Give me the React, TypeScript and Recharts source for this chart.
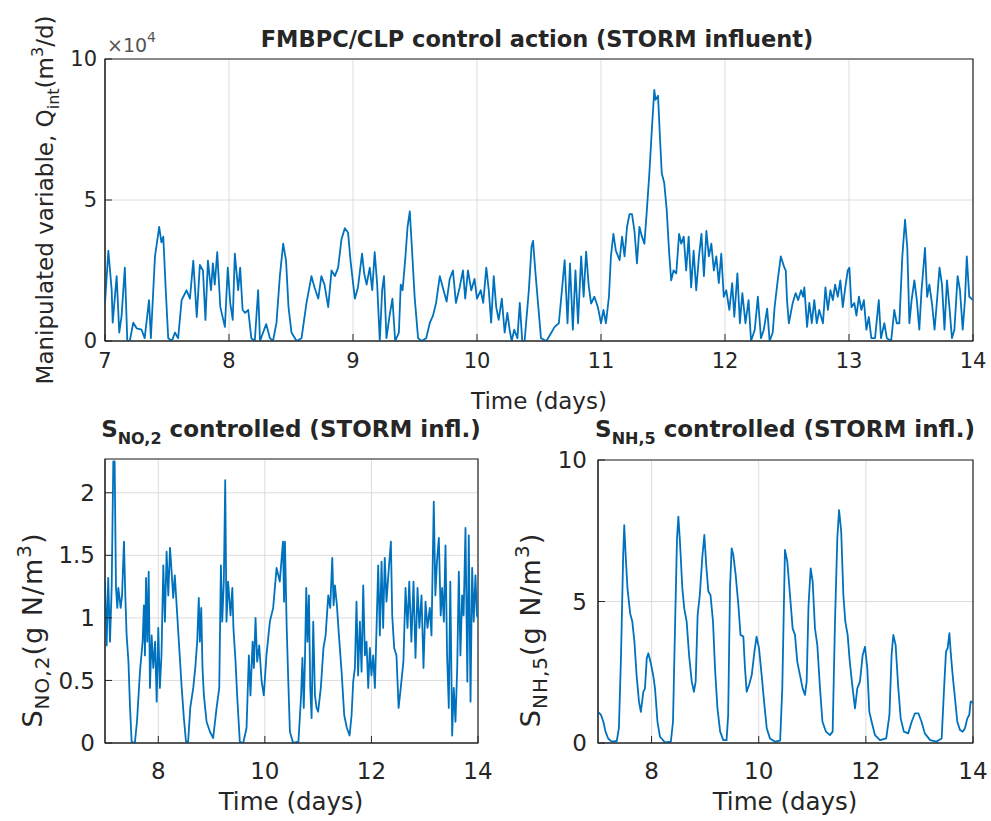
import React from 'react';
import { LineChart, Line, XAxis, YAxis, CartesianGrid, ReferenceArea } from 'recharts';

const FONT = '"DejaVu Sans", Verdana, sans-serif';
const AX = '#262626';
const GRID = '#dcdcdc';
const BLUE = '#0072BD';

// Time axis ticks (days)
const topXTicks = [7, 8, 9, 10, 11, 12, 13, 14];
const topYTicks = [0, 5, 10];
const botXTicks = [8, 10, 12, 14];
const noYTicks = [0, 0.5, 1, 1.5, 2];
const nhYTicks = [0, 5, 10];

// Manipulated variable Q_int, [time (days), value (x10^4 m3/d)]
const qintPoints: [number, number][] = [
  [7.0, 1.35], [7.027, 3.2], [7.054, 1.8], [7.062, 0.65], [7.094, 2.3], [7.115, 0.3], [7.134, 0.9], [7.16, 2.6], [7.18, 0], [7.2, 0],
  [7.228, 0.65], [7.255, 0.45], [7.295, 0.4], [7.32, 0.1], [7.355, 1.45], [7.37, 0.1], [7.403, 3.0], [7.437, 4.05], [7.455, 3.5], [7.47, 3.7],
  [7.49, 1.8], [7.51, 0.1], [7.54, 0], [7.564, 0.3], [7.59, 0.1], [7.618, 1.45], [7.658, 1.8], [7.685, 1.5], [7.712, 2.85], [7.74, 0.85],
  [7.765, 2.7], [7.79, 2.5], [7.81, 0.75], [7.83, 2.85], [7.855, 1.8], [7.87, 2.75], [7.885, 2.0], [7.905, 3.15], [7.93, 1.2], [7.967, 0.5],
  [7.99, 2.6], [8.01, 1.35], [8.03, 0.75], [8.047, 3.1], [8.074, 1.8], [8.09, 2.6], [8.11, 1.1], [8.13, 1.0], [8.155, 1.1], [8.18, 0.1],
  [8.208, 0], [8.235, 1.8], [8.25, 0], [8.275, 0.3], [8.3, 0.6], [8.33, 0.1], [8.355, 0], [8.383, 0.65], [8.41, 2.3], [8.437, 3.45],
  [8.46, 2.85], [8.48, 1.2], [8.504, 0.3], [8.545, 0], [8.585, 0.1], [8.625, 1.35], [8.665, 2.3], [8.69, 1.9], [8.72, 1.5], [8.745, 2.3],
  [8.77, 2.0], [8.8, 1.2], [8.827, 2.5], [8.854, 2.3], [8.88, 2.6], [8.907, 3.6], [8.934, 4.0], [8.96, 3.85], [8.98, 2.85], [9.015, 1.5],
  [9.04, 1.9], [9.073, 3.1], [9.09, 2.4], [9.11, 2.0], [9.135, 2.6], [9.155, 1.8], [9.175, 3.15], [9.195, 2.0], [9.216, 0], [9.235, 1.8],
  [9.25, 2.3], [9.27, 0.1], [9.295, 0.9], [9.318, 1.5], [9.34, 0], [9.37, 0.3], [9.385, 2.0], [9.4, 1.8], [9.423, 3.0], [9.44, 4.05],
  [9.458, 4.6], [9.475, 3.3], [9.498, 1.5], [9.525, 0.1], [9.552, 0], [9.59, 0.1], [9.62, 0.65], [9.645, 0.9], [9.67, 1.35], [9.7, 2.3],
  [9.73, 1.8], [9.755, 1.4], [9.78, 2.2], [9.806, 2.5], [9.83, 1.35], [9.86, 1.9], [9.887, 2.5], [9.905, 1.5], [9.927, 2.5], [9.954, 1.8],
  [9.98, 2.2], [10.0, 1.5], [10.03, 1.8], [10.05, 1.35], [10.075, 2.6], [10.095, 1.8], [10.114, 0.65], [10.135, 2.3], [10.155, 1.2], [10.175, 0.75],
  [10.2, 1.5], [10.223, 0.3], [10.245, 1.0], [10.263, 0.4], [10.28, 0], [10.3, 0.4], [10.326, 0.1], [10.345, 1.35], [10.365, 0], [10.384, 0],
  [10.418, 1.8], [10.44, 3.35], [10.452, 3.55], [10.47, 2.5], [10.49, 1.45], [10.516, 0.1], [10.56, 0], [10.6, 0.3], [10.626, 0.5], [10.66, 0.63],
  [10.68, 1.57], [10.707, 2.87], [10.73, 0.63], [10.75, 2.75], [10.773, 0.4], [10.794, 2.5], [10.815, 0.63], [10.84, 3.0], [10.86, 1.57], [10.88, 3.17],
  [10.9, 2.0], [10.92, 1.33], [10.947, 1.57], [10.975, 1.2], [11.0, 0.63], [11.02, 1.1], [11.04, 0.63], [11.064, 1.57], [11.08, 3.0], [11.1, 3.8],
  [11.12, 3.2], [11.15, 2.87], [11.17, 3.7], [11.19, 3.0], [11.21, 4.05], [11.23, 4.5], [11.25, 4.5], [11.27, 3.9], [11.29, 2.75], [11.31, 4.05],
  [11.33, 3.7], [11.35, 3.45], [11.37, 4.65], [11.39, 5.95], [11.41, 7.5], [11.43, 8.9], [11.44, 8.55], [11.46, 8.7], [11.475, 7.25], [11.49, 5.95],
  [11.51, 5.6], [11.53, 4.65], [11.55, 3.1], [11.566, 2.15], [11.585, 2.5], [11.607, 2.4], [11.63, 3.8], [11.647, 3.45], [11.667, 3.7], [11.687, 2.5],
  [11.707, 3.7], [11.727, 1.9], [11.747, 3.2], [11.768, 1.8], [11.79, 3.0], [11.81, 3.8], [11.83, 2.3], [11.85, 3.9], [11.87, 3.0], [11.89, 3.45],
  [11.91, 2.5], [11.93, 3.0], [11.95, 2.05], [11.97, 3.1], [11.99, 1.57], [12.01, 1.8], [12.035, 1.1], [12.058, 2.05], [12.075, 0.86], [12.1, 2.4],
  [12.12, 0.63], [12.14, 1.7], [12.165, 0.63], [12.19, 1.45], [12.21, 0], [12.24, 0.4], [12.265, 1.57], [12.29, 0.1], [12.313, 0.4], [12.34, 1.15],
  [12.36, 0], [12.385, 0.3], [12.4, 1.2], [12.425, 2.15], [12.45, 3.0], [12.479, 2.6], [12.49, 2.5], [12.5, 1.45], [12.515, 0.63], [12.546, 1.35],
  [12.57, 1.7], [12.59, 1.45], [12.614, 1.8], [12.63, 1.57], [12.64, 1.9], [12.662, 0.5], [12.68, 1.35], [12.7, 0.63], [12.72, 1.45], [12.74, 0.63],
  [12.76, 1.1], [12.79, 0.63], [12.81, 1.9], [12.83, 1.1], [12.85, 1.8], [12.87, 1.45], [12.888, 2.0], [12.91, 1.57], [12.93, 2.15], [12.95, 1.2],
  [12.97, 1.9], [12.99, 2.5], [13.003, 2.6], [13.02, 1.2], [13.043, 1.35], [13.06, 0.9], [13.08, 1.57], [13.1, 1.1], [13.12, 1.45], [13.14, 0.4],
  [13.16, 0.85], [13.18, 0.1], [13.21, 0.1], [13.24, 1.45], [13.258, 0.1], [13.285, 0.63], [13.305, 0.1], [13.34, 0], [13.365, 1.1], [13.385, 0.63],
  [13.406, 0.63], [13.43, 3.0], [13.452, 4.3], [13.47, 3.3], [13.487, 0.63], [13.505, 1.45], [13.527, 2.15], [13.547, 1.45], [13.567, 0.4], [13.585, 1.8],
  [13.613, 3.3], [13.63, 1.57], [13.648, 2.0], [13.67, 1.3], [13.69, 0.4], [13.71, 1.45], [13.73, 2.6], [13.75, 2.0], [13.77, 0.4], [13.79, 2.15],
  [13.81, 1.2], [13.83, 0.1], [13.85, 0.4], [13.876, 2.3], [13.895, 1.8], [13.917, 0.4], [13.935, 1.45], [13.95, 3.0], [13.97, 1.57], [14.0, 1.45],
];

// S_NO,2 (g N/m3)
const sno2Points: [number, number][] = [
  [7.0, 1.29], [7.031, 0.78], [7.06, 1.32], [7.094, 0.81], [7.125, 1.24], [7.156, 2.25], [7.181, 2.25], [7.206, 1.24], [7.231, 1.08], [7.25, 1.24],
  [7.294, 1.08], [7.32, 1.18], [7.356, 1.61], [7.381, 1.18], [7.406, 0.86], [7.44, 0.65], [7.47, 0.28], [7.5, 0.01], [7.56, 0], [7.6, 0.17],
  [7.656, 0.57], [7.706, 0.81], [7.73, 1.1], [7.75, 0.7], [7.77, 1.32], [7.794, 0.81], [7.82, 1.37], [7.844, 0.44], [7.875, 0.86], [7.906, 0.6],
  [7.94, 0.81], [7.97, 0.33], [8.0, 0.92], [8.03, 0.44], [8.06, 0.7], [8.094, 1.42], [8.125, 0.97], [8.156, 1.53], [8.188, 1.18], [8.22, 1.56],
  [8.25, 1.37], [8.28, 1.16], [8.31, 1.34], [8.356, 1.02], [8.39, 0.78], [8.44, 0.44], [8.48, 0.2], [8.52, 0.01], [8.56, 0.01], [8.6, 0.28],
  [8.656, 0.44], [8.694, 0.6], [8.73, 0.81], [8.76, 1.16], [8.78, 0.81], [8.806, 1.08], [8.83, 0.6], [8.856, 0.38], [8.906, 0.17], [8.97, 0.09],
  [9.03, 0.04], [9.094, 0.28], [9.144, 0.44], [9.175, 1.42], [9.2, 0.97], [9.23, 1.29], [9.256, 2.1], [9.28, 0.97], [9.31, 1.29], [9.356, 1.02],
  [9.39, 1.24], [9.41, 0.92], [9.45, 0.65], [9.48, 0.38], [9.53, 0.01], [9.594, 0], [9.656, 0.12], [9.7, 0.7], [9.73, 0.38], [9.77, 0.81],
  [9.794, 0.6], [9.825, 1.0], [9.856, 0.65], [9.894, 0.78], [9.94, 0.49], [9.98, 0.38], [10.03, 0.7], [10.094, 0.97], [10.156, 1.08], [10.22, 1.4],
  [10.28, 1.29], [10.34, 1.61], [10.36, 1.13], [10.377, 1.61], [10.41, 0.92], [10.44, 0.49], [10.47, 0.09], [10.53, 0], [10.63, 0.01], [10.68, 0.38],
  [10.705, 0.68], [10.73, 0.28], [10.752, 0.65], [10.777, 1.24], [10.8, 0.81], [10.827, 1.18], [10.852, 0.44], [10.877, 0.2], [10.908, 0.97], [10.94, 0.38],
  [10.97, 0.28], [11.0, 0.25], [11.05, 0.44], [11.1, 0.76], [11.14, 0.86], [11.19, 1.18], [11.227, 1.08], [11.265, 1.48], [11.29, 1.1], [11.315, 1.26],
  [11.352, 1.1], [11.39, 0.86], [11.44, 0.57], [11.49, 0.22], [11.54, 0.12], [11.59, 0.06], [11.627, 0.22], [11.658, 0.49], [11.69, 0.6], [11.72, 1.13],
  [11.75, 0.54], [11.783, 0.97], [11.815, 0.57], [11.846, 1.26], [11.877, 0.7], [11.908, 0.81], [11.94, 0.44], [11.97, 0.76], [12.0, 0.54], [12.033, 0.7],
  [12.065, 0.44], [12.096, 0.92], [12.127, 1.42], [12.158, 0.86], [12.19, 1.45], [12.22, 0.92], [12.25, 1.48], [12.283, 1.13], [12.327, 1.4], [12.365, 1.61],
  [12.39, 1.02], [12.427, 0.76], [12.47, 0.7], [12.51, 0.28], [12.55, 0.44], [12.6, 0.65], [12.64, 1.24], [12.677, 0.92], [12.71, 1.29], [12.75, 0.81],
  [12.79, 1.29], [12.827, 0.68], [12.865, 1.24], [12.9, 0.92], [12.94, 1.18], [12.977, 0.6], [13.015, 1.13], [13.052, 0.92], [13.095, 1.08], [13.127, 0.86],
  [13.17, 1.93], [13.2, 1.18], [13.23, 1.45], [13.265, 1.64], [13.3, 1.02], [13.327, 1.24], [13.36, 0.97], [13.39, 1.58], [13.42, 0.7], [13.452, 0.28],
  [13.48, 1.29], [13.515, 0.06], [13.545, 0.44], [13.577, 0.17], [13.61, 0.6], [13.64, 1.37], [13.67, 0.7], [13.702, 1.18], [13.73, 1.02], [13.765, 1.72],
  [13.8, 0.49], [13.827, 1.66], [13.86, 0.33], [13.89, 1.4], [13.92, 0.97], [13.952, 1.34], [13.98, 1.02], [14.0, 1.0],
];

// S_NH,5 (g N/m3)
const snh5Points: [number, number][] = [
  [7.0, 1.1], [7.056, 0.99], [7.1, 0.75], [7.14, 0.4], [7.19, 0.16], [7.255, 0.05], [7.35, 0.07], [7.39, 0.52], [7.43, 3.1], [7.47, 6.64],
  [7.49, 7.7], [7.516, 6.64], [7.55, 5.47], [7.6, 4.58], [7.64, 4.29], [7.68, 3.58], [7.72, 2.4], [7.765, 1.46], [7.8, 1.1], [7.846, 1.81],
  [7.877, 1.93], [7.91, 2.99], [7.94, 3.17], [7.98, 2.87], [8.03, 2.4], [8.064, 1.93], [8.11, 0.75], [8.157, 0.22], [8.25, 0.02], [8.36, 0.05],
  [8.4, 0.75], [8.44, 4.29], [8.475, 7.23], [8.5, 8.0], [8.53, 7.11], [8.574, 5.47], [8.61, 4.76], [8.655, 4.29], [8.7, 3.1], [8.75, 2.17],
  [8.79, 1.81], [8.823, 2.17], [8.86, 4.52], [8.9, 5.23], [8.95, 6.64], [8.985, 7.35], [9.02, 6.29], [9.06, 5.35], [9.1, 5.23], [9.147, 4.29],
  [9.184, 2.64], [9.23, 1.22], [9.28, 0.4], [9.34, 0.1], [9.4, 0.1], [9.43, 0.99], [9.464, 5.47], [9.495, 6.88], [9.526, 6.64], [9.57, 5.94],
  [9.62, 4.88], [9.66, 3.82], [9.713, 3.76], [9.744, 2.64], [9.775, 1.81], [9.82, 2.05], [9.87, 2.4], [9.92, 3.23], [9.96, 3.76], [10.005, 3.35],
  [10.055, 2.4], [10.1, 1.46], [10.15, 0.52], [10.21, 0.16], [10.3, 0.05], [10.4, 0.08], [10.44, 1.93], [10.49, 6.82], [10.534, 6.41], [10.584, 5.23],
  [10.633, 4.05], [10.677, 3.82], [10.72, 2.87], [10.77, 2.4], [10.82, 1.93], [10.864, 1.7], [10.895, 2.17], [10.93, 4.88], [10.97, 6.17], [11.007, 5.7],
  [11.05, 4.05], [11.094, 3.46], [11.144, 1.93], [11.19, 0.75], [11.256, 0.4], [11.33, 0.28], [11.38, 0.4], [11.424, 4.29], [11.467, 7.23], [11.5, 8.23],
  [11.54, 7.47], [11.58, 5.23], [11.617, 4.29], [11.66, 3.82], [11.7, 2.87], [11.753, 1.93], [11.797, 1.22], [11.84, 1.93], [11.89, 2.17], [11.94, 3.1],
  [11.984, 3.4], [12.027, 2.64], [12.065, 1.1], [12.108, 0.75], [12.17, 0.28], [12.264, 0.1], [12.38, 0.16], [12.44, 0.99], [12.48, 3.1], [12.513, 3.82],
  [12.556, 3.46], [12.606, 1.93], [12.65, 0.87], [12.71, 0.4], [12.79, 0.34], [12.855, 0.75], [12.917, 1.05], [12.98, 1.05], [13.04, 0.75], [13.1, 0.34],
  [13.2, 0.1], [13.32, 0.05], [13.415, 0.16], [13.46, 1.93], [13.496, 3.23], [13.527, 3.35], [13.56, 3.88], [13.583, 3.23], [13.62, 2.4], [13.664, 1.58],
  [13.707, 0.75], [13.757, 0.46], [13.807, 0.4], [13.85, 0.52], [13.894, 0.87], [13.93, 0.99], [13.956, 1.46], [13.98, 1.46], [14.0, 1.4],
];

const toRows = (pts: [number, number][]) => pts.map(([t, v]) => ({ t, v }));

type PanelProps = {
  data: { t: number; v: number }[];
  width: number;
  height: number;
  margin: { top: number; right: number; bottom: number; left: number };
  xTicks: number[];
  yTicks: number[];
  yDomain: [number, number];
  tickFont: number;
  xTickMargin: number;
  yTickMargin: number;
};

function Panel(p: PanelProps) {
  const tickStyle = { fill: AX, fontSize: p.tickFont, fontFamily: FONT };
  return (
    <LineChart width={p.width} height={p.height} data={p.data} margin={p.margin}>
      <CartesianGrid stroke={GRID} strokeWidth={1} />
      <XAxis
        dataKey="t" type="number" domain={[7, 14]} ticks={p.xTicks} allowDataOverflow interval={0}
        height={40} tickSize={-7} tickMargin={p.xTickMargin} stroke={AX} tick={tickStyle}
      />
      <XAxis
        xAxisId="top" orientation="top" dataKey="t" type="number" domain={[7, 14]} ticks={p.xTicks}
        allowDataOverflow interval={0} height={0} tickSize={-7} tickFormatter={() => ''} stroke={AX}
      />
      <YAxis
        type="number" domain={p.yDomain} ticks={p.yTicks} allowDataOverflow interval={0}
        width={60} tickSize={-7} tickMargin={p.yTickMargin} stroke={AX} tick={tickStyle}
      />
      <YAxis
        yAxisId="right" orientation="right" type="number" domain={p.yDomain} ticks={p.yTicks}
        allowDataOverflow interval={0} width={0} tickSize={-7} tickFormatter={() => ''} stroke={AX}
      />
      <Line
        dataKey="v" type="linear" stroke={BLUE} strokeWidth={1.8} dot={false}
        isAnimationActive={false} strokeLinejoin="round"
      />
      <ReferenceArea
        x1={7} x2={14} y1={p.yDomain[0]} y2={p.yDomain[1]} fill="none" fillOpacity={0}
        stroke={AX} strokeWidth={1.2} ifOverflow="visible"
      />
    </LineChart>
  );
}

export default function App() {
  const txt = { fontFamily: FONT, fill: AX } as const;
  return (
    <div style={{ position: 'absolute', left: 0, top: 0, width: 991, height: 821, background: '#fff', fontFamily: FONT }}>
      <div style={{ position: 'absolute', left: 0, top: 0 }}>
        <Panel
          data={toRows(qintPoints)} width={991} height={420}
          margin={{ top: 59, right: 18, bottom: 39, left: 45 }}
          xTicks={topXTicks} yTicks={topYTicks} yDomain={[0, 10]}
          tickFont={21} xTickMargin={19} yTickMargin={15}
        />
      </div>
      <div style={{ position: 'absolute', left: 0, top: 420 }}>
        <Panel
          data={toRows(sno2Points)} width={495} height={401}
          margin={{ top: 39, right: 17, bottom: 38, left: 45 }}
          xTicks={botXTicks} yTicks={noYTicks} yDomain={[0, 2.27]}
          tickFont={23} xTickMargin={27} yTickMargin={17}
        />
      </div>
      <div style={{ position: 'absolute', left: 495, top: 420 }}>
        <Panel
          data={toRows(snh5Points)} width={496} height={401}
          margin={{ top: 40, right: 18, bottom: 38, left: 43 }}
          xTicks={botXTicks} yTicks={nhYTicks} yDomain={[0, 10]}
          tickFont={23} xTickMargin={27} yTickMargin={18}
        />
      </div>
      <svg width={991} height={821} style={{ position: 'absolute', left: 0, top: 0, pointerEvents: 'none' }}>
        {/* top panel */}
        <text x={537} y={47} textAnchor="middle" fontSize={22.5} fontWeight="bold" {...txt}>
          FMBPC/CLP control action (STORM influent)
        </text>
        <text x={107} y={52} fontSize={19} fill="#555" fontFamily={FONT}>
          ×10<tspan fontSize={14} dy={-10}>4</tspan>
        </text>
        <text transform="translate(53,200) rotate(-90)" textAnchor="middle" fontSize={23} {...txt}>
          Manipulated variable, Q<tspan fontSize={16} dy={6}>int</tspan>
          <tspan dy={-6}>(m</tspan>
          <tspan fontSize={16} dy={-10}>3</tspan>
          <tspan dy={10}>/d)</tspan>
        </text>
        <text x={539} y={409} textAnchor="middle" fontSize={23} {...txt}>Time (days)</text>

        {/* bottom-left panel */}
        <text x={291} y={437} textAnchor="middle" fontSize={23} fontWeight="bold" {...txt}>
          S<tspan fontSize={16} dy={7}>NO,2</tspan>
          <tspan dy={-7}> controlled (STORM infl.)</tspan>
        </text>
        <text transform="translate(42,630) rotate(-90)" textAnchor="middle" fontSize={27} letterSpacing={1} {...txt}>
          S<tspan fontSize={20} dy={7}>NO,2</tspan>
          <tspan dy={-7}>(g N/m</tspan>
          <tspan fontSize={20} dy={-11}>3</tspan>
          <tspan dy={11}>)</tspan>
        </text>
        <text x={291} y={810} textAnchor="middle" fontSize={24.5} {...txt}>Time (days)</text>

        {/* bottom-right panel */}
        <text x={785} y={437} textAnchor="middle" fontSize={23} fontWeight="bold" {...txt}>
          S<tspan fontSize={16} dy={7}>NH,5</tspan>
          <tspan dy={-7}> controlled (STORM infl.)</tspan>
        </text>
        <text transform="translate(540,630) rotate(-90)" textAnchor="middle" fontSize={27} letterSpacing={1} {...txt}>
          S<tspan fontSize={20} dy={7}>NH,5</tspan>
          <tspan dy={-7}>(g N/m</tspan>
          <tspan fontSize={20} dy={-11}>3</tspan>
          <tspan dy={11}>)</tspan>
        </text>
        <text x={785} y={810} textAnchor="middle" fontSize={24.5} {...txt}>Time (days)</text>
      </svg>
    </div>
  );
}
